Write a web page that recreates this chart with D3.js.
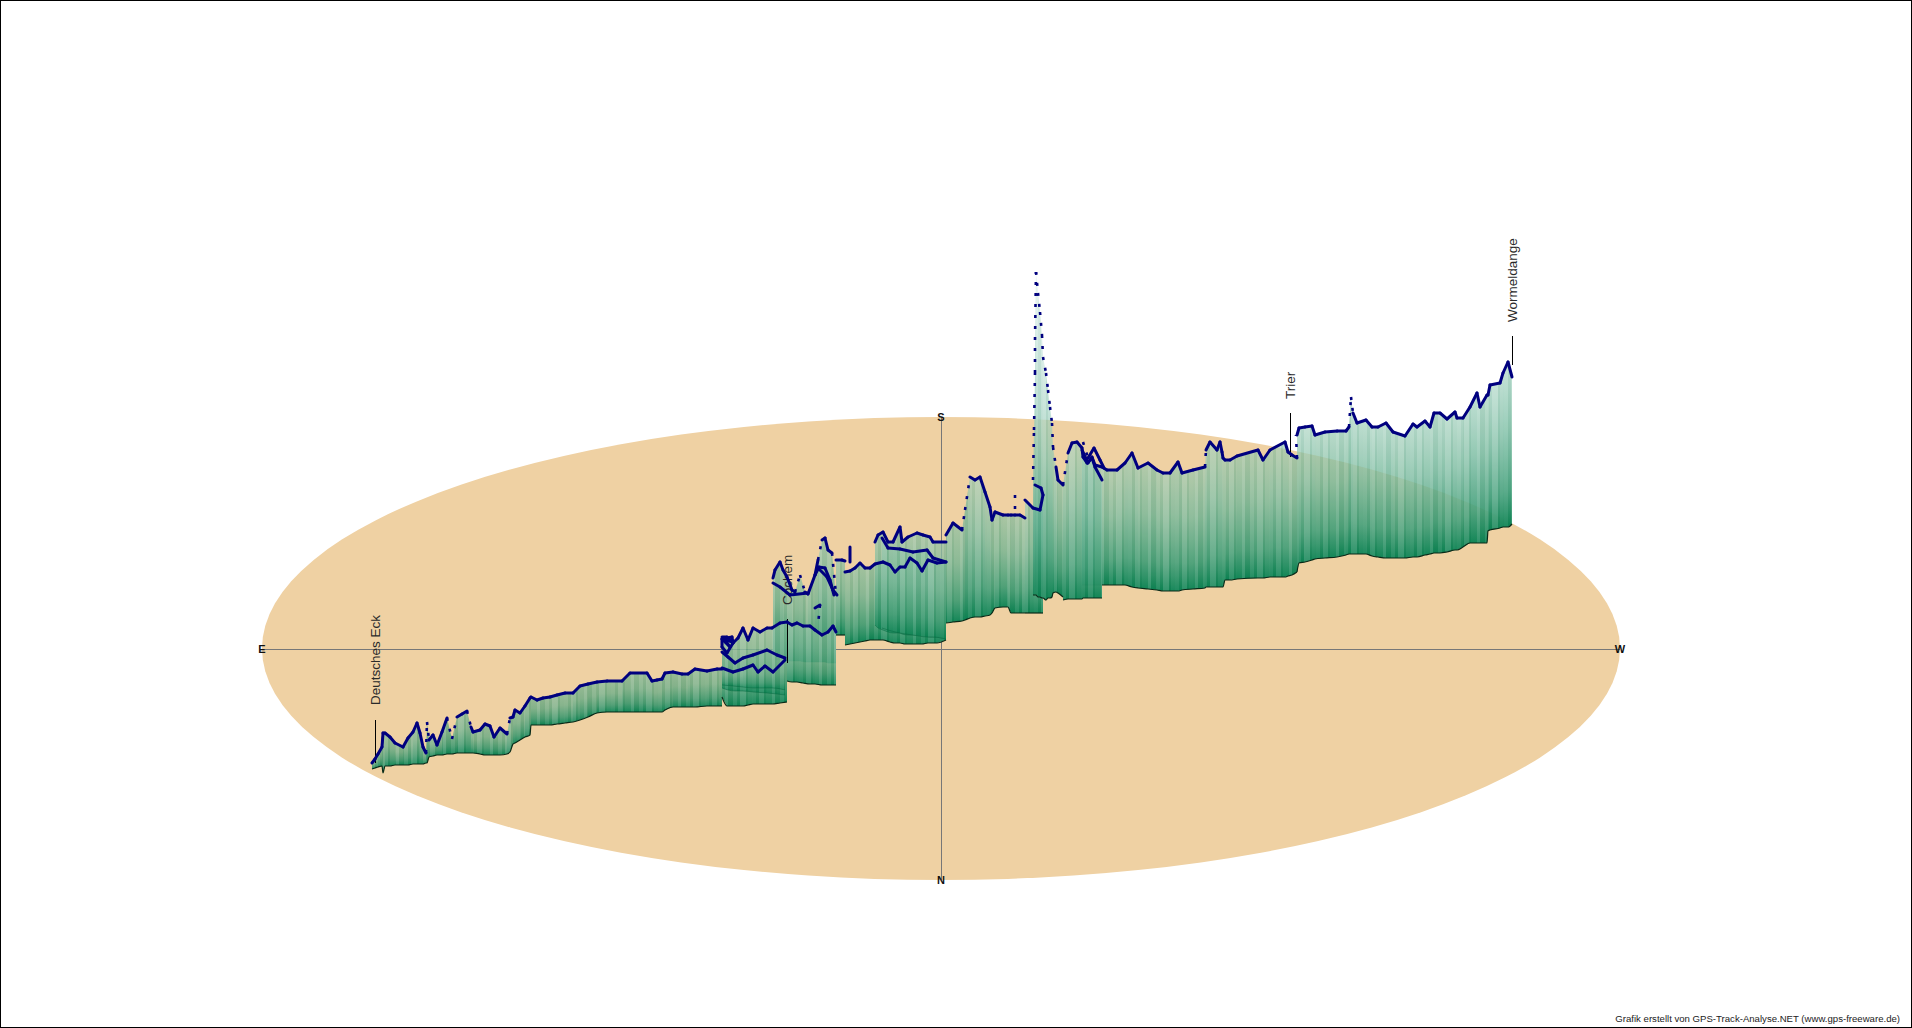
<!DOCTYPE html>
<html><head><meta charset="utf-8">
<script src="https://cdn.jsdelivr.net/npm/d3@7"></script>
<style>html,body{margin:0;padding:0;background:#fff;overflow:hidden}svg{display:block}text{font-family:"Liberation Sans",Arial,sans-serif}</style>
</head><body><div id="chart"></div>
<script>
// Values. east: along the E-W axis; ground / track: level on the shared vertical scale.
const eastA=[110,113,116,120,121,123,128,133,141,146,151,155,158,161,164,165,167,171,175,180,185,190,195,200,205,209,211,218,223,228,232,238,245,248,251,253,258,263,268,269,275,281,288,295,303,311,318,326,335,345,360,368,385,390,395,400,403,411,420,426,433,445,455,460];
const groundA=[111,112,113,114,107,114,114,115,115,115,116,116,116,116,117,117,123,124,125,125,126,126,127,127,127,127,127,126,125,125,125,125,126,128,136,137,140,143,145,155,155,155,155,156,157,158,160,163,167,168,168,168,168,168,168,168,170,173,173,173,173,174,174,174];
const trackA=[117,121,126,133,147,147,143,137,133,142,148,157,147,133,127,158,140,145,135,148,162,141,163,166,169,153,148,150,156,154,143,152,146,162,163,170,167,174,182,183,180,182,183,185,187,187,194,196,198,199,199,207,207,199,200,201,207,208,206,206,211,209,211,211];

const eastC2=[511,513,518,521,525,530,533,538,543,546,553,556,560,563,566,570,574];
const groundC2=[220,220,220,220,219,219,219,219,218,218,218,218,218,218,217,217,217];
const trackC2=[302,310,318,310,303,290,288,305,288,286,305,320,340,342,330,327,285];

const eastB1=[460,465,471,476,481,486,491,498,505,510,518,525];
const groundB1=[183,174,174,174,174,175,176,176,176,176,177,178];
const trackB1=[243,243,237,242,252,240,252,248,252,252,257,258];

const eastC1=[525,530,535,541,548,553,560,566,571,574];
const groundC1=[199,198,198,197,196,196,195,195,195,195];
const trackC1=[258,255,257,254,254,250,245,248,254,248];

const eastB2=[460,466,473,481,491,505,515,523];
const groundB2=[192,190,189,189,188,187,186,185];
const trackB2=[228,223,217,222,225,230,225,222];

const eastB3=[460,471,481,491,496,503,511,523];
const groundB3=[195,194,193,192,192,192,192,190];
const trackB3=[212,208,211,215,208,214,208,220];

const eastD1=[574,580,583];
const groundD1=[245,245,245];
const trackD1=[320,320,319];

const eastD2=[583,588,593,598,603,608,613,621,628,633,638,643,648,655,660,666,675,684];
const groundD2=[235,236,237,238,239,240,240,240,238,237,237,236,236,236,236,237,237,240];
const trackD2=[308,309,312,317,312,312,316,318,315,308,313,313,322,317,309,320,317,318];

const eastE1=[613,616,621,626,631,638,640,646,655,661,668,671,684];
const groundE1=[255,252,250,248,247,247,246,245,245,244,243,243,241];
const trackE1=[338,345,348,338,338,353,338,343,347,345,343,338,338];

const eastE2=[620,626,638,651,665,671,684];
const groundE2=[252,250,247,245,243,243,241];
const trackE2=[342,332,331,328,330,322,318];

const eastF=[684,691,700,703,708,713,718,723,728,730,733,741,746,749,753,758,763];
const groundF=[257,258,259,260,262,263,263,264,265,267,272,273,273,267,267,267,267];
const trackF=[345,357,350,370,403,400,403,388,373,360,368,365,365,365,365,365,362];

const eastH=[763,771,778,781];
const groundH=[267,267,267,267];
const trackH=[380,372,370,385];

const eastG=[771,772,773,773,774,776,778,780,781,784,786,788,790,791,794,796,801];
const groundG=[285,285,285,285,285,283,283,282,282,280,282,282,283,287,288,287,283];
const trackG=[400,450,507,540,608,587,568,545,523,507,490,473,457,433,413,400,395];

const eastI=[801,806,810,815,820,821,825,830,833,840];
const groundI=[280,281,281,281,281,282,282,282,282,282];
const trackI=[395,427,437,438,432,423,417,422,413,400];

const eastJ=[820,826,830,833,840,845,855,863,870,876,886,895,901,908,916,920,931,943,944,948,955,958,960,961,963,968,975,996,1001,1008,1023,1026,1030,1035];
const groundJ=[295,295,295,295,295,295,295,295,293,292,291,290,289,289,289,290,291,292,293,293,293,293,293,293,300,300,301,302,302,303,303,304,305,308];
const trackJ=[430,417,423,415,413,410,410,417,427,412,417,410,407,407,418,407,410,413,430,438,430,438,428,422,420,420,424,430,420,430,438,428,425,422];

const eastK=[1035,1037,1043,1050,1053,1063,1075,1084,1087,1089,1091,1095,1104,1110,1116,1124,1131,1143,1151,1155,1163,1168,1172,1178,1185,1193,1195,1201,1208,1215,1218,1225,1226,1228,1238,1241,1246,1250];
const groundK=[308,317,318,320,321,322,323,325,326,326,326,326,326,324,323,322,322,322,323,323,325,326,327,327,328,330,330,333,337,337,337,337,349,350,352,353,353,356];
const trackK=[445,452,453,454,445,448,449,449,453,483,467,457,460,453,453,457,448,444,456,453,459,453,467,467,461,468,462,462,473,487,473,485,485,495,497,507,518,503];

// Extra track pieces that have no ribbon of their own
const loopEast=[460,470,471,465,460,460,468,463,471];
const loopLevel=[241,243,237,227,233,241,233,240,238];
const cochemLowEast=[511,518,528,546];
const cochemLowLevel=[297,293,285,287];
const cochemBackEast=[556,565,571,575];
const cochemBackLevel=[312,303,290,285];
const cochemHookEast=[553,558,556];
const cochemHookLevel=[272,275,255];
const cochemRidgeEast=[553,557,563,568,572];
const cochemRidgeLevel=[305,313,312,300,285];
const spikeDEast=[588,588];
const spikeDLevel=[333,318];
const spikeFEast=[753,753];
const spikeFLevel=[385,365];
const hookEast=[781,779,773];
const hookLevel=[385,392,395];
const trierStepEast=[1035,1034];
const trierStepLevel=[422,445];
const wiggleEast=[821,826,832,838,842];
const wiggleLevel=[438,422,432,420,412];

const placeNames=["Deutsches Eck","Cochem","Trier","Wormeldange"];
const placeEast=[113,525,1028,1250];
const placeFoot=[117,217,423,515];
const placeHead=[160,261,467,544];
const placeText=[175,275,481,558];

const compassNames=["E","W","S","N"];
const compassEast=[0,1358,679,679];
const compassLevel=[231,231,463,0];
const credit="Grafik erstellt von GPS-Track-Analyse.NET (www.gps-freeware.de)";

const W=1912,H=1028;
const x=d3.scaleLinear().domain([0,1358]).range([262,1620]);
const y=d3.scaleLinear().domain([0,463]).range([880,417]);

const svg=d3.select("#chart").append("svg").attr("width",W).attr("height",H);
svg.append("rect").attr("x",.5).attr("y",.5).attr("width",W-1).attr("height",H-1).attr("fill","#fff").attr("stroke","#000");
const defs=svg.append("defs");

// stripes
const pat=defs.append("pattern").attr("id","stripes").attr("patternUnits","userSpaceOnUse").attr("width",47).attr("height",10);
[[0,4,"#fff",.07],[4,3,"#063",.05],[7,5,"#fff",.12],[12,2,"#063",.07],[14,6,"#fff",.03],[20,3,"#fff",.14],[23,5,"#063",.05],[28,4,"#fff",.09],[32,3,"#063",.03],[35,6,"#fff",.15],[41,2,"#063",.07],[43,4,"#fff",.05]]
 .forEach(s=>pat.append("rect").attr("x",s[0]).attr("y",0).attr("width",s[1]).attr("height",10).attr("fill",s[2]).attr("fill-opacity",s[3]));

// ground disc and axes
svg.append("ellipse").attr("cx",x(679)).attr("cy",y(231.5)).attr("rx",x(1358)-x(679)).attr("ry",y(0)-y(231.5)).attr("fill","#efd1a3");
svg.append("line").attr("x1",x(0)).attr("x2",x(1358)).attr("y1",y(231)+.5).attr("y2",y(231)+.5).attr("stroke","#777");
svg.append("line").attr("x1",x(679)+.5).attr("x2",x(679)+.5).attr("y1",y(463)).attr("y2",y(0)).attr("stroke","#777");
compassNames.forEach((n,i)=>svg.append("text").attr("x",x(compassEast[i])).attr("y",y(compassLevel[i])+4).attr("text-anchor","middle").attr("font-size",11).attr("font-weight","bold").attr("fill","#111").text(n));

const ribbons=[
 {e:eastA,g:groundA,t:trackA,edge:1},
 {e:eastC2,g:groundC2,t:trackC2,edge:0},
 {e:eastD1,g:groundD1,t:trackD1,edge:1},
 {e:eastD2,g:groundD2,t:trackD2,edge:1},
 {e:eastC1,g:groundC1,t:trackC1,edge:1},
 {e:eastB1,g:groundB1,t:trackB1,edge:1},
 {e:eastB2,g:groundB2,t:trackB2,edge:0},
 {e:eastB3,g:groundB3,t:trackB3,edge:0},
 {e:eastE1,g:groundE1,t:trackE1,edge:0},
 {e:eastE2,g:groundE2,t:trackE2,edge:0},
 {e:eastF,g:groundF,t:trackF,edge:1},
 {e:eastH,g:groundH,t:trackH,edge:1},
 {e:eastJ,g:groundJ,t:trackJ,edge:1},
 {e:eastI,g:groundI,t:trackI,edge:1},
 {e:eastG,g:groundG,t:trackG,edge:1},
 {e:eastK,g:groundK,t:trackK,edge:1}
];

const topCol=d3.scaleLinear().domain([30,170,340]).range(["rgb(125,178,140)","rgb(150,205,185)","rgb(225,242,238)"]).clamp(true);
const topAlpha=d3.scaleLinear().domain([30,170,340]).range([.8,.55,.5]).clamp(true);
const made=new Set();
function grad(h){
  const c=Math.round(h/15)*15,id="g"+c;
  if(!made.has(id)){
    made.add(id);
    const lg=defs.append("linearGradient").attr("id",id).attr("x1",0).attr("x2",0).attr("y1",1).attr("y2",0);
    lg.append("stop").attr("offset",0).attr("stop-color","rgb(12,130,82)").attr("stop-opacity",1);
    lg.append("stop").attr("offset",.22).attr("stop-color",d3.interpolateRgb("rgb(12,130,82)",topCol(c))(.38)).attr("stop-opacity",.92);
    lg.append("stop").attr("offset",.6).attr("stop-color",d3.interpolateRgb("rgb(12,130,82)",topCol(c))(.78)).attr("stop-opacity",.8);
    lg.append("stop").attr("offset",1).attr("stop-color",topCol(c)).attr("stop-opacity",topAlpha(c));
  }
  return "url(#"+id+")";
}

const rib=svg.append("g");
ribbons.forEach(r=>{
  const idx=d3.range(r.e.length);
  const g=rib.append("g");
  g.selectAll("path.s").data(idx.slice(0,-1)).join("path").attr("class","s")
    .attr("d",i=>`M${x(r.e[i])},${y(r.g[i])}L${x(r.e[i])},${y(r.t[i])}L${x(r.e[i+1])},${y(r.t[i+1])}L${x(r.e[i+1])},${y(r.g[i+1])}Z`)
    .attr("fill",i=>grad((r.t[i]+r.t[i+1]-r.g[i]-r.g[i+1])/2));
  const area=d3.area().x(i=>x(r.e[i])).y0(i=>y(r.g[i])).y1(i=>y(r.t[i]));
  g.append("path").attr("d",area(idx)).attr("fill","url(#stripes)");
  const gl=d3.line().x(i=>x(r.e[i])).y(i=>y(r.g[i])).curve(d3.curveMonotoneX);
  g.append("path").attr("d",gl(idx)).attr("fill","none")
    .attr("stroke",r.edge?"#0a2a18":"#0a6a42").attr("stroke-width",r.edge?1.2:1).attr("stroke-opacity",r.edge?1:.5);
});

// place labels
placeNames.forEach((n,i)=>{
  svg.append("line").attr("x1",x(placeEast[i])+.5).attr("x2",x(placeEast[i])+.5).attr("y1",y(placeFoot[i])).attr("y2",y(placeHead[i])).attr("stroke","#000");
  svg.append("text").attr("transform",`translate(${x(placeEast[i])+5},${y(placeText[i])}) rotate(-90)`).attr("font-size",13.5).attr("fill","#2a2a2a").text(n);
});

// track: gently sloped runs are solid, long steep jumps break up into dots
const tracks=ribbons.map(r=>r.e.map((e,i)=>[e,r.t[i]]));
[[loopEast,loopLevel],[cochemLowEast,cochemLowLevel],[cochemBackEast,cochemBackLevel],[cochemHookEast,cochemHookLevel],[cochemRidgeEast,cochemRidgeLevel],[spikeDEast,spikeDLevel],[spikeFEast,spikeFLevel],[hookEast,hookLevel],[trierStepEast,trierStepLevel],[wiggleEast,wiggleLevel]]
 .forEach(p=>tracks.push(p[0].map((e,i)=>[e,p[1][i]])));
const steep=d=>{const dx=d[1][0]-d[0][0],dy=d[1][1]-d[0][1];return Math.abs(dy)>=16&&Math.abs(dy)>3*Math.abs(dx);};
const tg=svg.append("g").attr("stroke","#00007f").attr("fill","none");
tracks.forEach(t=>{
  tg.append("g").selectAll("line").data(d3.pairs(t)).join("line")
    .attr("x1",d=>x(d[0][0])).attr("y1",d=>y(d[0][1])).attr("x2",d=>x(d[1][0])).attr("y2",d=>y(d[1][1]))
    .attr("stroke-width",d=>steep(d)?2.6:3)
    .attr("stroke-linecap",d=>steep(d)?"butt":"round")
    .attr("stroke-dasharray",d=>steep(d)?"3 8":null);
});

svg.append("text").attr("x",1900).attr("y",1022).attr("text-anchor","end").attr("font-size",9.6).attr("fill","#222").text(credit);
</script></body></html>
